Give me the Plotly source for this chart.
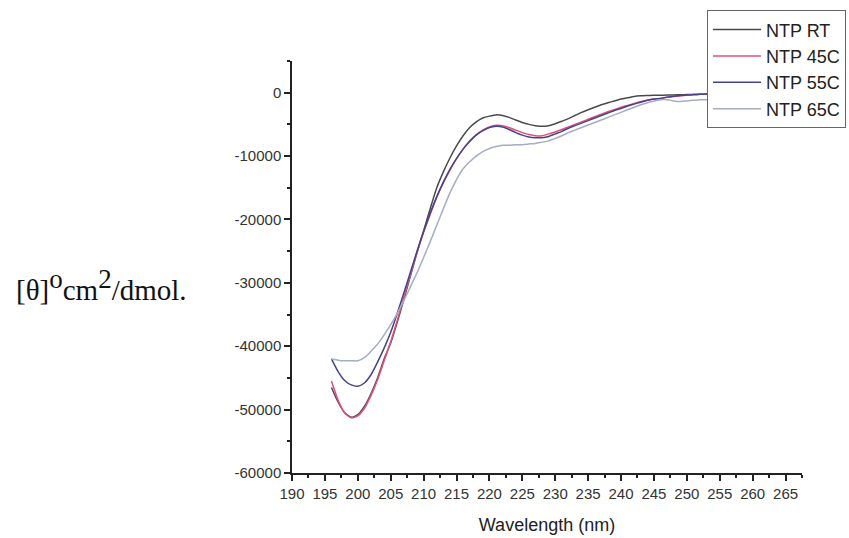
import plotly.graph_objects as go

# Wavelength grid (nm)
wavelength = list(range(196, 261))

# Mean residue ellipticity for each sample, deg cm^2 / dmol
ntp_rt = [
    -46500, -48800, -50500, -51200, -50800, -49500, -47500, -45000, -42000, -39500,
    -36200, -32600, -28900, -25200, -21800, -18300, -15000, -12500, -10300, -8400,
    -6800, -5500, -4600, -4000, -3700, -3500, -3600, -3900, -4300, -4700,
    -5000, -5200, -5300, -5200, -4900, -4500, -4100, -3600, -3100, -2700,
    -2300, -1900, -1600, -1300, -1000, -800, -600, -500, -450, -400,
    -400, -380, -350, -320, -300, -280, -260, -250, -240, -230,
    -220, -210, -200, -200, -200,
]
ntp_45c = [
    -45500, -48500, -50500, -51300, -51000, -49800, -47800, -45300, -42300, -39300,
    -35900, -32300, -28700, -25200, -22000, -19200, -16500, -14200, -12200, -10400,
    -8900, -7600, -6600, -5900, -5400, -5150, -5200, -5500, -5900, -6300,
    -6600, -6800, -6800, -6500, -6200, -5800, -5400, -5000, -4600, -4200,
    -3800, -3400, -3000, -2700, -2300, -2000, -1700, -1400, -1200, -1000,
    -900, -700, -600, -500, -400, -300, -250, -220, -200, -200,
    -200, -200, -200, -200, -200,
]
ntp_55c = [
    -42000, -44000, -45400, -46100, -46300, -45800, -44500, -42500, -40300, -37800,
    -34800, -31600, -28300, -25000, -21900, -19000, -16400, -14100, -12100, -10400,
    -8900, -7700, -6700, -6000, -5500, -5300, -5400, -5800, -6300, -6700,
    -7000, -7100, -7100, -6900, -6500, -6100, -5600, -5200, -4800, -4400,
    -4000, -3600, -3200, -2800, -2500, -2100, -1800, -1500, -1200, -1000,
    -900, -700, -550, -450, -350, -300, -250, -220, -200, -200,
    -200, -200, -200, -200, -200,
]
ntp_65c = [
    -42000, -42200, -42300, -42300, -42300, -41800, -40800, -39700, -38200, -36600,
    -34800, -32800, -30600, -28400, -26000, -23500, -20900, -18300, -15800, -13700,
    -12000, -10900, -10000, -9300, -8800, -8500, -8300, -8300, -8200, -8200,
    -8100, -8000, -7800, -7600, -7200, -6800, -6300, -5900, -5500, -5100,
    -4700, -4300, -3900, -3500, -3100, -2700, -2300, -1900, -1600, -1300,
    -1100, -1100, -1300, -1400, -1300, -1200, -1100, -1100, -1050, -1000,
    -1000, -1000, -1000, -1000, -1000,
]

series_names = ["NTP RT", "NTP 45C", "NTP 55C", "NTP 65C"]
series_values = [ntp_rt, ntp_45c, ntp_55c, ntp_65c]
series_colors = ["#4a4a4a", "#e0507a", "#44448a", "#a6acc2"]

x_ticks = list(range(190, 266, 5))
y_ticks = list(range(-60000, 1, 10000))

fig = go.Figure()
for name, vals, color in zip(series_names, series_values, series_colors):
    fig.add_trace(go.Scatter(
        x=wavelength, y=vals, name=name, mode="lines",
        line=dict(color=color, width=1.5, shape="spline", smoothing=0.6),
    ))

axis_font = dict(family="Liberation Sans, Arial, sans-serif", size=15, color="#333333")

fig.update_xaxes(
    range=[190, 267.5], tickvals=x_ticks, ticktext=[str(t) for t in x_ticks],
    showline=True, linecolor="#222222", linewidth=1.5, mirror=False,
    ticks="outside", ticklen=6, tickwidth=1.5, tickcolor="#222222",
    minor=dict(dtick=2.5, tick0=190, ticks="outside", ticklen=3, tickwidth=1.5, tickcolor="#222222"),
    showgrid=False, zeroline=False, tickfont=axis_font,
    title=dict(text="Wavelength (nm)", font=dict(family="Liberation Sans, Arial, sans-serif", size=18, color="#222222"), standoff=18),
)
fig.update_yaxes(
    range=[-60000, 5000], tickvals=y_ticks, ticktext=[str(t) for t in y_ticks],
    showline=True, linecolor="#222222", linewidth=1.5, mirror=False,
    ticks="outside", ticklen=6, tickwidth=1.5, tickcolor="#222222",
    minor=dict(dtick=5000, tick0=0, ticks="outside", ticklen=3, tickwidth=1.5, tickcolor="#222222"),
    showgrid=False, zeroline=False, tickfont=axis_font,
)

fig.add_annotation(
    xref="paper", yref="paper", x=-0.545, y=0.457, xanchor="left", yanchor="middle",
    text="[θ]<sup><span style='font-size:27px'>o</span></sup>cm<sup><span style='font-size:27px'>2</span></sup>/dmol.",
    showarrow=False,
    font=dict(family="Liberation Serif, Times New Roman, serif", size=29, color="#111111"),
)

fig.update_layout(
    width=849, height=538,
    margin=dict(l=292, r=47, t=61, b=65, autoexpand=False),
    paper_bgcolor="white", plot_bgcolor="white",
    showlegend=True,
    legend=dict(
        x=0.8137, y=1.123, xanchor="left", yanchor="top",
        bgcolor="white", bordercolor="#666666", borderwidth=1,
        font=dict(family="Liberation Sans, Arial, sans-serif", size=18, color="#222222"),
        itemwidth=48, tracegroupgap=0,
    ),
)

fig.write_html("out.html")
